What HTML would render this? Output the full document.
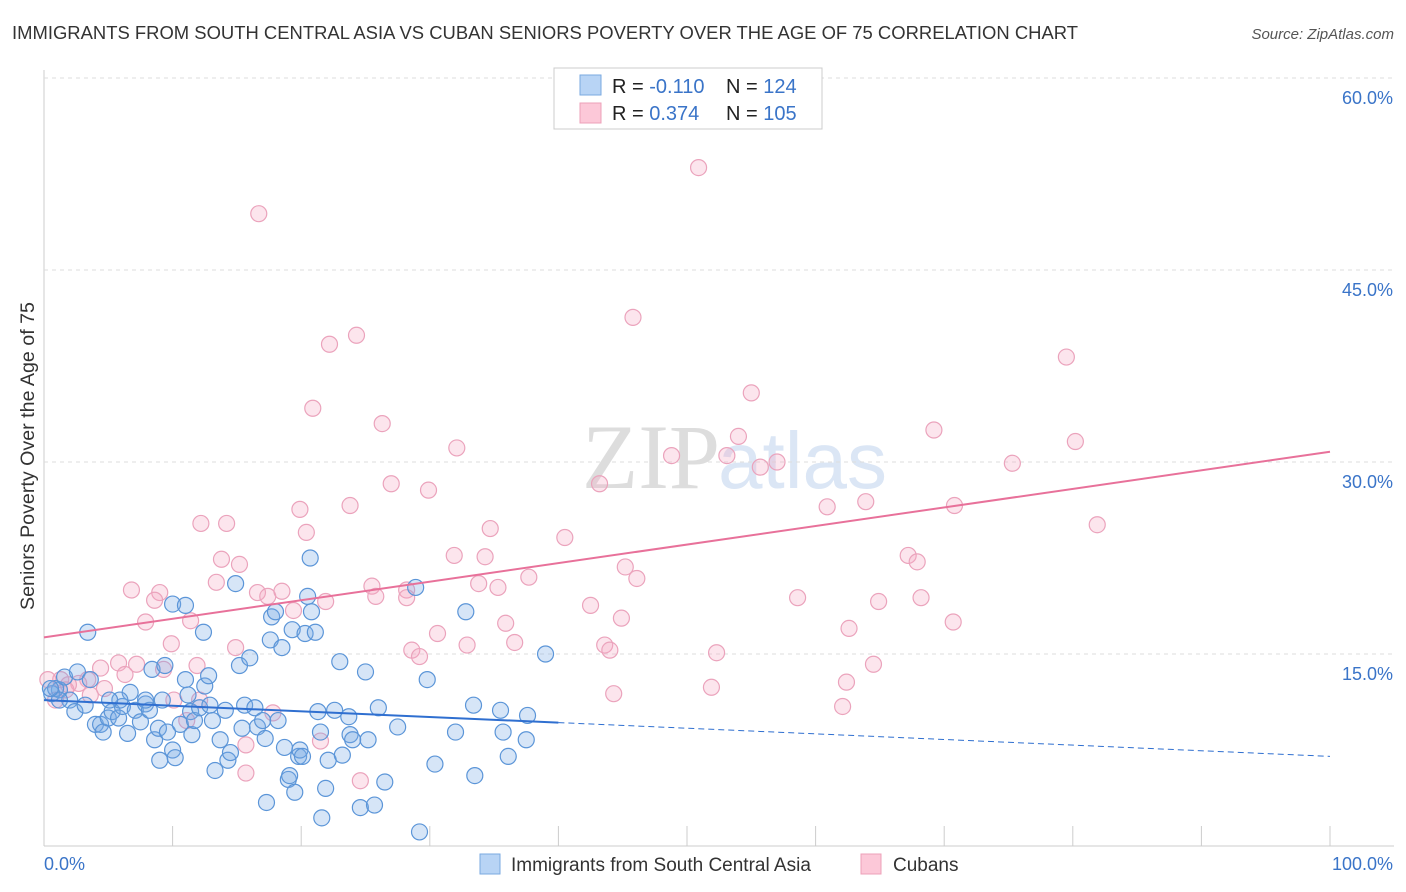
<!DOCTYPE html>
<html><head><meta charset="utf-8"><style>
body{margin:0;background:#fff;font-family:"Liberation Sans",sans-serif;}
#wrap{position:relative;width:1406px;height:892px;overflow:hidden;}
</style></head><body>
<div id="wrap">
<svg id="svg" width="1406" height="892">
<text x="12" y="39" font-size="18" fill="#333" textLength="1066" lengthAdjust="spacingAndGlyphs">IMMIGRANTS FROM SOUTH CENTRAL ASIA VS CUBAN SENIORS POVERTY OVER THE AGE OF 75 CORRELATION CHART</text>
<text x="1394" y="39" font-size="15" fill="#555" font-style="italic" text-anchor="end">Source: ZipAtlas.com</text>
<text x="720" y="488" font-size="92" fill="#ddd" font-family="Liberation Serif,serif" text-anchor="end">ZIP</text>
<text x="718" y="488" font-size="80" fill="#dbe6f5">atlas</text>
<text transform="translate(34,456) rotate(-90)" font-size="19" fill="#333" text-anchor="middle" textLength="308" lengthAdjust="spacingAndGlyphs">Seniors Poverty Over the Age of 75</text>
<g id="grid"></g><g id="pts"></g><g id="trend"></g>
<rect x="554" y="68" width="268" height="61" fill="#fff" stroke="#ccc"/>
<rect x="580" y="75" width="21" height="20" fill="#b8d4f5" stroke="#7aaae0"/>
<rect x="580" y="103" width="21" height="20" fill="#fcc8d8" stroke="#eda0b8"/>
<text x="612" y="93" font-size="20" fill="#222">R = <tspan fill="#3a74c8">-0.110</tspan></text>
<text x="726" y="93" font-size="20" fill="#222">N = <tspan fill="#3a74c8">124</tspan></text>
<text x="612" y="120" font-size="20" fill="#222">R = <tspan fill="#3a74c8"> 0.374</tspan></text>
<text x="726" y="120" font-size="20" fill="#222">N = <tspan fill="#3a74c8">105</tspan></text>
<rect x="480" y="854" width="20" height="20" fill="#b8d4f5" stroke="#7aaae0"/>
<text x="511" y="871" font-size="19" fill="#333">Immigrants from South Central Asia</text>
<rect x="861" y="854" width="20" height="20" fill="#fcc8d8" stroke="#eda0b8"/>
<text x="893" y="871" font-size="19" fill="#333">Cubans</text>
<text x="44" y="870" font-size="18" fill="#3a74c8">0.0%</text>
<text x="1393" y="870" font-size="18" fill="#3a74c8" text-anchor="end">100.0%</text>
</svg></div>
<script>
const yTicks=[15,30,45,60];
const yTickLabels=["15.0%","30.0%","45.0%","60.0%"];
const xTicks=[0,10,20,30,40,50,60,70,80,90,100];
const blueX=[1.2,0.6,0.9,1.6,2.0,2.4,2.6,3.4,3.2,4.0,4.4,4.6,5.0,5.3,5.8,6.1,6.5,6.7,7.1,7.5,7.9,8.2,8.4,8.6,8.9,9.2,9.4,9.6,10.0,10.2,10.0,10.6,11.0,11.0,11.2,11.4,11.5,11.7,12.1,12.4,12.5,12.8,12.9,13.1,13.3,13.7,14.1,14.3,14.5,14.9,15.2,15.4,15.6,16.0,16.4,16.6,17.0,17.2,17.3,17.6,17.7,18.0,18.2,18.5,18.7,19.0,19.1,19.3,19.5,19.8,19.9,20.1,20.3,20.5,20.7,20.8,21.1,21.3,21.5,21.6,21.9,22.1,22.6,23.0,23.2,23.7,23.8,24.0,24.6,25.0,25.2,25.7,26.0,26.5,27.5,28.9,29.2,29.8,30.4,32.0,32.8,33.5,33.4,35.5,35.7,36.1,37.5,37.6,39.0,3.6,5.9,1.2,0.5,5.1,7.9,9.0];
const blueY=[12.2,11.9,12.3,13.2,11.4,10.5,13.6,16.7,11.0,9.5,9.5,8.9,10.0,10.5,10.0,10.9,8.8,12.0,10.6,9.7,11.1,10.6,13.8,8.3,9.2,11.4,14.1,8.9,7.5,6.9,18.9,9.5,18.8,13.0,11.8,10.5,8.7,9.8,10.8,16.7,12.5,13.3,11.0,9.8,5.9,8.3,10.6,6.7,7.3,20.5,14.1,9.2,11.0,14.7,10.8,9.3,9.8,8.4,3.4,16.1,17.9,18.3,9.8,15.5,7.7,5.2,5.5,16.9,4.2,7.0,7.5,7.0,16.6,19.5,22.5,18.3,16.7,10.5,8.9,2.2,4.5,6.7,10.6,14.4,7.1,10.1,8.7,8.3,3.0,13.6,8.3,3.2,10.8,5.0,9.3,20.2,1.1,13.0,6.4,8.9,18.3,5.5,11.0,10.6,8.9,7.0,8.3,10.2,15.0,13.0,11.4,11.4,12.3,11.4,11.4,6.7];
const pinkX=[16.7,50.9,45.8,24.3,22.2,79.5,55.0,20.9,26.3,54.0,69.2,80.2,32.1,48.8,53.1,55.7,57.0,75.3,27.0,29.9,43.2,63.9,60.9,70.8,23.8,19.9,12.2,14.2,34.7,81.9,40.5,20.4,67.2,67.9,31.9,34.3,13.8,15.2,45.2,46.1,37.7,25.5,33.8,13.4,6.8,16.6,17.4,18.5,28.2,9.0,8.6,35.3,25.8,58.6,64.9,68.2,42.5,21.9,19.4,28.2,7.9,44.9,11.4,35.9,70.7,62.6,30.6,36.6,14.9,9.9,43.6,44.0,32.9,28.6,29.2,52.3,7.2,5.8,4.4,64.5,9.3,11.9,3.4,2.7,1.3,1.9,0.3,4.7,62.4,51.9,44.3,62.1,10.1,17.8,11.1,15.7,21.5,24.6,1.7,3.6,0.9,12.1,6.3,15.7];
const pinkY=[49.4,53.0,41.3,39.9,39.2,38.2,35.4,34.2,33.0,32.0,32.5,31.6,31.1,30.5,30.5,29.6,30.0,29.9,28.3,27.8,28.3,26.9,26.5,26.6,26.6,26.3,25.2,25.2,24.8,25.1,24.1,24.5,22.7,22.2,22.7,22.6,22.4,22.0,21.8,20.9,21.0,20.3,20.5,20.6,20.0,19.8,19.5,19.9,20.0,19.8,19.2,20.2,19.5,19.4,19.1,19.4,18.8,19.1,18.4,19.4,17.5,17.8,17.6,17.4,17.5,17.0,16.6,15.9,15.5,15.8,15.7,15.3,15.7,15.3,14.8,15.1,14.2,14.3,13.9,14.2,13.8,14.1,13.0,12.7,13.0,12.6,13.0,12.3,12.8,12.4,11.9,10.9,11.4,10.4,9.8,7.9,8.2,5.1,12.2,11.8,11.4,11.4,13.4,5.7];
const blueTrend=[11.4,7.0];
const pinkTrend=[16.3,30.8];
const blueSolidEnd=40;

const NS="http://www.w3.org/2000/svg";
const X0=44,X1=1330,Y0=846,YS=12.8;
function xs(v){return X0+(X1-X0)*v/100;}
function ys(v){return Y0-v*YS;}
function mk(tag,attrs,parent){const e=document.createElementNS(NS,tag);for(const k in attrs)e.setAttribute(k,attrs[k]);parent.appendChild(e);return e;}
const grid=document.getElementById('grid');
let a=mk('line',{x1:X0,y1:70,x2:X0,y2:Y0,stroke:'#ccc'},grid);


a=mk('line',{x1:X0,y1:Y0,x2:1394,y2:Y0,stroke:'#ccc'},grid);


a=mk('line',{x1:X0,y1:78,x2:1394,y2:78,stroke:'#ddd','stroke-dasharray':'4,4'},grid);


yTicks.forEach((t,i)=>{
  const g=mk('line',{x1:X0,y1:ys(t),x2:1394,y2:ys(t),stroke:'#ddd','stroke-dasharray':'4,4'},grid);
  
  
  const l=mk('text',{x:1393,y:ys(t)+26,'font-size':18,fill:'#3a74c8','text-anchor':'end'},grid);
  l.textContent=yTickLabels[i];
  
  
});
xTicks.forEach(t=>{
  const g=mk('line',{x1:xs(t),y1:826,x2:xs(t),y2:Y0,stroke:'#ccc'},grid);
  
  
});
const pts=document.getElementById('pts');
pinkX.forEach((x,i)=>{
  const c=mk('circle',{cx:xs(x),cy:ys(pinkY[i]),r:8,fill:'rgba(246,170,196,0.3)',stroke:'#eba3bc','stroke-width':1.2},pts);
  
  
});
blueX.forEach((x,i)=>{
  const c=mk('circle',{cx:xs(x),cy:ys(blueY[i]),r:8,fill:'rgba(120,170,230,0.3)',stroke:'#5b95d8','stroke-width':1.2},pts);
  
  
});
const tr=document.getElementById('trend');
function bAt(x){return blueTrend[0]+(blueTrend[1]-blueTrend[0])*x/100;}
let l=mk('line',{x1:xs(0),y1:ys(bAt(0)),x2:xs(blueSolidEnd),y2:ys(bAt(blueSolidEnd)),stroke:'#2f6fd0','stroke-width':2},tr);


l=mk('line',{x1:xs(blueSolidEnd),y1:ys(bAt(blueSolidEnd)),x2:xs(100),y2:ys(bAt(100)),stroke:'#2f6fd0','stroke-width':1,'stroke-dasharray':'6,4'},tr);


l=mk('line',{x1:xs(0),y1:ys(pinkTrend[0]),x2:xs(100),y2:ys(pinkTrend[1]),stroke:'#e8719a','stroke-width':2},tr);


</script>
</body></html>
